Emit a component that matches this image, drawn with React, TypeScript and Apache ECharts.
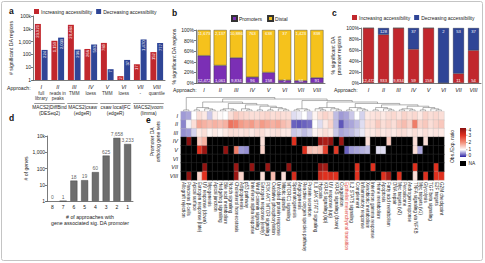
import React, { useEffect, useRef } from "react";
import * as echarts from "echarts";

const W = 485;
const H = 263;
const FONT = "Liberation Sans, Arial, sans-serif";

const RED = "#c1272d";
const BLUE = "#2f4596";
const PURPLE = "#7b2fb5";
const YELLOW = "#f5c21c";
const GRAY = "#6e6e6e";

// approaches I-VIII
const approaches = ["I", "II", "III", "IV", "V", "VI", "VII", "VIII"];
const normalisation = ["full\nlibrary", "reads in\npeaks", "TMM", "loess", "TMM", "loess", "-", "quantile"];
const pipelines = ["MACS2|DiffBind\n(DESeq2)", "MACS2|csaw\n(edgeR)", "csaw local|FC\n(edgeR)", "MACS2|voom\n(limma)"];

// a: significant DA regions per approach
const increasingAll = [23921, 1159, 20484, 266, 789, 2, 17, 152];
const decreasingAll = [224, 2039, 236, 593, 7, 37, 1470, 777];

// b: promoter vs distal DA regions
const promoterCounts = [12472, 1061, 9834, 96, 158, 2, 64, 91];
const distalCounts = [11673, 2137, 10886, 763, 638, 37, 1423, 838];

// c: direction of promoter DA regions
const promoterIncreasing = [12472, 933, 9834, 59, 158, 0, 11, 54];
const promoterDecreasing = [0, 128, 0, 37, 0, 2, 53, 37];

// d: genes by number of approaches
const approachCountCats = ["8", "7", "6", "5", "4", "3", "2", "1"];
const geneCounts = [0, 1, 18, 19, 60, 625, 7658, 3233];

// e: hallmark gene sets, observed / expected ratio (null = NA)
const hallmarkSets = [
  "Allograft rejection", "Pancreas \u03b2 cells", "Apical surface", "Estrogen response (late)", "UV response (down)",
  "Myogenesis", "Apical junction", "Hedgehog signaling", "Bile acid metabolism", "Notch signaling",
  "Cholesterol homeostasis", "Adipogenesis", "p53 pathway", "Interferon alpha response", "Wnt \u03b2-catenin signaling",
  "Estrogen response (early)", "PI3K AKT MTOR signaling", "Oxidative phosphorylation", "Unfolded protein response", "Mitotic spindle",
  "MTORC1 signaling", "Spermatogenesis", "Angiogenesis", "Reactive oxygen species pathway", "Protein secretion",
  "IL6 JAK STAT3 signaling", "Hypoxia", "KRAS signaling (up)", "UV response (up)", "KRAS signaling (down)",
  "Coagulation", "Epithelial mesenchymal transition", "IL2 STAT5 signaling", "Complement", "Inflammatory response",
  "Xenobiotic metabolism", "Interferon gamma response", "Heme metabolism", "Apoptosis", "Fatty acid metabolism",
  "DNA repair", "Myc targets (v2)", "Peroxisome", "Androgen response", "TNFA signaling via NFKB",
  "Myc targets (v1)", "Glycolysis", "TGF beta signaling", "E2F targets", "G2M checkpoint",
];
const highlightedSet = "Epithelial mesenchymal transition";

const _ = null;
const ratioI = [
  0.55, 0.6, 1.0, 1.3, 1.2, 0.75, 1.15, 1.05, 1.0, 1.3,
  1.5, 1.4, 1.35, 1.3, 1.3, 1.35, 1.4, 1.3, 1.35, 1.3,
  1.3, 0.85, 0.9, 1.0, 0.8, 1.1, 1.3, 1.4, 1.3, 0.7,
  0.55, 0.6, 0.75, 1.0, 0.8, 1.2, 1.25, 1.3, 1.2, 1.3,
  1.35, 1.25, 1.4, 1.3, 1.35, 1.2, 1.4, 1.3, 1.35, 1.3,
];
const ratioII = [
  0.45, 0.95, 1.3, 1.8, 1.7, 1.6, 1.7, 1.6, 1.7, 2.3,
  2.2, 1.9, 1.8, 1.9, 1.7, 1.9, 1.8, 1.7, 1.8, 1.6,
  1.5, 0.3, 0.25, 0.3, 0.35, 1.0, 0.85, 1.2, 1.4, 0.7,
  0.25, 0.55, 0.6, 0.7, 0.85, 1.3, 1.3, 1.5, 1.3, 1.4,
  1.3, 1.5, 1.6, 1.4, 2.2, 1.4, 1.5, 1.3, 1.4, 1.5,
];
const ratioIII = [
  0.5, 0.55, 0.8, 1.2, 1.3, 1.1, 1.2, 1.1, 1.2, 1.3,
  1.3, 1.25, 1.3, 1.2, 1.3, 1.3, 1.2, 1.25, 1.3, 1.2,
  1.2, 0.75, 0.8, 0.7, 0.8, 1.1, 1.2, 1.3, 1.2, 0.75,
  0.6, 0.65, 0.7, 0.8, 0.9, 1.2, 1.2, 1.3, 1.2, 1.25,
  1.2, 1.3, 1.3, 1.2, 1.3, 1.2, 1.3, 1.2, 1.25, 1.2,
];
const ratioIV = [
  _, 4.2, _, 1.5, 1.7, _, _, _, _, _,
  _, _, _, _, _, 1.3, _, _, _, _,
  _, 3.0, _, _, _, _, 3.8, 3.6, 3.9, _,
  3.8, _, _, _, _, 1.3, _, _, _, 1.5,
  _, _, _, _, 1.3, _, 1.3, _, _, _,
];
const ratioV = [
  _, _, _, 3.0, 3.8, _, _, _, 3.9, _,
  2.2, 0.55, 0.5, _, _, 1.4, _, _, _, _,
  _, _, _, 3.0, 1.6, 1.5, 1.6, 2.8, _, 2.9,
  _, 0.3, 0.55, 0.6, 0.65, 0.7, _, 0.85, 0.85, _,
  _, _, _, _, 1.3, 0.6, _, _, _, _,
];
const ratioVI = [
  _, _, _, _, _, _, _, _, _, _,
  _, _, _, _, _, _, _, _, _, _,
  _, _, _, _, _, _, _, _, _, _,
  _, _, _, _, _, _, _, _, _, _,
  _, _, _, _, _, _, _, _, _, _,
];
const ratioVII = [
  _, _, _, _, 3.9, _, _, _, _, _,
  3.8, _, _, 3.9, _, _, 3.8, _, _, _,
  3.9, _, _, _, _, _, 3.9, 3.7, _, _,
  _, _, _, 3.0, _, _, 3.0, _, _, _,
  _, _, _, _, 3.0, _, _, _, 3.0, _,
];
const ratioVIII = [
  _, 3.9, _, 1.4, 3.0, _, _, _, _, _,
  3.8, 1.4, _, _, _, 1.3, _, 1.6, _, 1.3,
  _, 3.1, _, _, _, _, 3.2, 3.0, 3.1, 3.0,
  _, _, _, 3.0, _, _, _, _, 3.0, 3.7,
  _, 3.0, _, _, 1.3, _, 3.0, _, 3.0, 3.0,
];
const ratioRows = [ratioI, ratioII, ratioIII, ratioIV, ratioV, ratioVI, ratioVII, ratioVIII];

const ratioTicks = [4, 3, 2, 1, 0];
// colour stops for ratio 0, 1, 2, 3, 4
const RATIO_COLORS = ["#2a1fa3", "#ffffff", "#f3907a", "#e0301e", "#8a1010"];

// column clustering of the gene sets
const clusterA = [[[2, 3], [4, [5, 6]]], [[[7, 8], [9, 10]], [[11, [12, 13]], [[14, 15], [[16, 17], [18, [19, 20]]]]]]];
const clusterB = [[[21, 22], [23, 24]], [[[25, [26, 27]], [28, [29, 30]]], [[[31, 32], [33, [34, 35]]], [[[36, 37], [38, [39, 40]]], [[[41, 42], [43, 44]], [[45, 46], [47, [48, 49]]]]]]]];
const columnTree = [[0, 1], [clusterA, clusterB]];

const fmtNum = (v: number) => Number(v).toLocaleString("en-US");
const fmtLog = (v: number) => (v >= 10000 ? `${v / 1000}k` : fmtNum(v));

const axisLine = { show: true, lineStyle: { color: "#222", width: 0.6 } };
const axisTick = { show: true, length: 2, lineStyle: { color: "#222", width: 0.6 } };
const tickLabel = { fontFamily: FONT, fontSize: 5, color: "#222", margin: 2 };
const nameStyle = { fontFamily: FONT, fontSize: 5.2, color: "#222", lineHeight: 6 };

function inBarLabel(position: string, fmt: (p: any) => string) {
  return {
    show: true,
    position,
    distance: 1,
    fontFamily: FONT,
    fontSize: 4.2,
    color: "#fff",
    formatter: fmt,
  };
}

function buildOption(): any {
  const heatValues: any[] = [];
  const heatNA: any[] = [];
  ratioRows.forEach((row, r) =>
    row.forEach((v, c) => {
      if (v === null) heatNA.push([c, r, 0]);
      else heatValues.push([c, r, v]);
    })
  );

  const romanAxis = (gridIndex: number) => ({
    type: "category",
    gridIndex,
    data: approaches,
    axisLine,
    axisTick: { show: false },
    axisLabel: { fontFamily: FONT, fontSize: 5.5, fontStyle: "italic", color: "#222", margin: 4, interval: 0 },
  });

  return {
    animation: false,
    backgroundColor: "#fff",
    textStyle: { fontFamily: FONT },
    grid: [
      { left: 33, top: 16, width: 132, height: 64, outerBoundsMode: "none", containLabel: false },
      { left: 196, top: 30, width: 129, height: 53, outerBoundsMode: "none", containLabel: false },
      { left: 361, top: 28, width: 120, height: 55, outerBoundsMode: "none", containLabel: false },
      { left: 47, top: 136, width: 86, height: 65, outerBoundsMode: "none", containLabel: false },
      { left: 181, top: 111.5, width: 263, height: 68.5, outerBoundsMode: "none", containLabel: false },
    ],
    legend: [
      {
        data: ["Increasing accessibility", "Decreasing accessibility"],
        left: 34, top: 9, itemWidth: 5, itemHeight: 5, itemGap: 4, padding: 0, selectedMode: false,
        icon: "rect", textStyle: { fontFamily: FONT, fontSize: 5, color: "#222", padding: [0, 0, 0, -3] },
      },
      {
        data: ["Promoters", "Distal"],
        left: 231, top: 15, itemWidth: 5, itemHeight: 5, itemGap: 5, padding: 0, selectedMode: false,
        icon: "rect", textStyle: { fontFamily: FONT, fontSize: 5, color: "#222", padding: [0, 0, 0, -3] },
      },
      {
        data: ["Increasing accessibility", "Decreasing accessibility"],
        left: 352, top: 15, itemWidth: 5, itemHeight: 5, itemGap: 4, padding: 0, selectedMode: false,
        icon: "rect", textStyle: { fontFamily: FONT, fontSize: 5, color: "#222", padding: [0, 0, 0, -3] },
      },
    ],
    xAxis: [
      {
        type: "category",
        gridIndex: 0,
        data: approaches,
        axisLine,
        axisTick: { show: false },
        axisLabel: {
          interval: 0,
          margin: 3,
          formatter: (v: string, i: number) => `{n|${v}}\n{s|${normalisation[i]}}`,
          rich: {
            n: { fontFamily: FONT, fontSize: 5.5, fontStyle: "italic", color: "#222", lineHeight: 8 },
            s: { fontFamily: FONT, fontSize: 4.6, color: "#333", lineHeight: 5.2 },
          },
        },
      },
      romanAxis(1),
      romanAxis(2),
      {
        type: "category",
        gridIndex: 3,
        data: approachCountCats,
        axisLine,
        axisTick: { show: false },
        axisLabel: { ...tickLabel, margin: 3, interval: 0 },
        name: "# of approaches with\ngene associated sig. DA promoter",
        nameLocation: "middle",
        nameGap: 13,
        nameTextStyle: nameStyle,
      },
      {
        type: "category",
        gridIndex: 4,
        data: hallmarkSets,
        axisLine: { show: false },
        axisTick: { show: false },
        axisLabel: {
          interval: 0,
          rotate: -90,
          margin: 2,
          fontFamily: FONT,
          fontSize: 4.6,
          color: (v: string) => (v === highlightedSet ? "#e0483e" : "#222"),
        },
      },
    ],
    yAxis: [
      {
        type: "log",
        gridIndex: 0,
        min: 1,
        max: 100000,
        logBase: 10,
        axisLine,
        axisTick,
        splitLine: { show: false },
        axisLabel: { ...tickLabel, formatter: fmtLog },
        name: "# significant DA regions",
        nameLocation: "middle",
        nameGap: 19,
        nameRotate: 90,
        nameTextStyle: nameStyle,
      },
      {
        type: "value",
        gridIndex: 1,
        min: 0,
        max: 100,
        interval: 20,
        axisLine,
        axisTick,
        splitLine: { show: false },
        axisLabel: { ...tickLabel, formatter: "{value}%" },
        name: "% significant DA regions",
        nameLocation: "middle",
        nameGap: 15,
        nameRotate: 90,
        nameTextStyle: nameStyle,
      },
      {
        type: "value",
        gridIndex: 2,
        min: 0,
        max: 100,
        interval: 20,
        axisLine,
        axisTick,
        splitLine: { show: false },
        axisLabel: { ...tickLabel, formatter: "{value}%" },
        name: "% significant DA\npromoter regions",
        nameLocation: "middle",
        nameGap: 16,
        nameRotate: 90,
        nameTextStyle: nameStyle,
      },
      {
        type: "log",
        gridIndex: 3,
        min: 1,
        max: 10000,
        logBase: 10,
        axisLine,
        axisTick,
        splitLine: { show: false },
        axisLabel: { ...tickLabel, formatter: fmtLog },
        name: "# of genes",
        nameLocation: "middle",
        nameGap: 17,
        nameRotate: 90,
        nameTextStyle: nameStyle,
      },
      {
        type: "category",
        gridIndex: 4,
        data: approaches,
        inverse: true,
        axisLine: { show: false },
        axisTick: { show: false },
        axisLabel: { fontFamily: FONT, fontSize: 5.5, fontStyle: "italic", color: "#222", margin: 3 },
      },
    ],
    visualMap: [
      {
        type: "continuous",
        show: false,
        min: 0,
        max: 4,
        dimension: 2,
        seriesIndex: 8,
        inRange: { color: RATIO_COLORS },
      },
      {
        type: "continuous",
        show: false,
        min: 0,
        max: 1,
        dimension: 2,
        seriesIndex: 9,
        inRange: { color: ["#000000", "#000000"] },
      },
    ],
    series: [
      {
        type: "bar",
        name: "Increasing accessibility",
        xAxisIndex: 0,
        yAxisIndex: 0,
        data: increasingAll,
        barWidth: 6,
        barGap: "12%",
        itemStyle: { color: RED },
        label: {
          ...inBarLabel("insideTop", (p: any) => fmtNum(p.value)),
          rotate: 90,
          align: "right",
          verticalAlign: "middle",
        },
      },
      {
        type: "bar",
        name: "Decreasing accessibility",
        xAxisIndex: 0,
        yAxisIndex: 0,
        data: decreasingAll,
        barWidth: 6,
        barGap: "12%",
        itemStyle: { color: BLUE },
        label: {
          ...inBarLabel("insideTop", (p: any) => fmtNum(p.value)),
          rotate: 90,
          align: "right",
          verticalAlign: "middle",
        },
      },
      {
        type: "bar",
        name: "Promoters",
        xAxisIndex: 1,
        yAxisIndex: 1,
        stack: "regions",
        barWidth: 13,
        data: promoterCounts.map((v, i) => (v / (v + distalCounts[i])) * 100),
        itemStyle: { color: PURPLE, borderColor: "#333", borderWidth: 0.4 },
        label: inBarLabel("insideBottom", (p: any) => fmtNum(promoterCounts[p.dataIndex])),
      },
      {
        type: "bar",
        name: "Distal",
        xAxisIndex: 1,
        yAxisIndex: 1,
        stack: "regions",
        barWidth: 13,
        data: distalCounts.map((v, i) => (v / (v + promoterCounts[i])) * 100),
        itemStyle: { color: YELLOW, borderColor: "#333", borderWidth: 0.4 },
        label: inBarLabel("insideTop", (p: any) => fmtNum(distalCounts[p.dataIndex])),
      },
      {
        type: "bar",
        name: "Increasing accessibility",
        xAxisIndex: 2,
        yAxisIndex: 2,
        stack: "promoters",
        barWidth: 11,
        data: promoterIncreasing.map((v, i) => (v / (v + promoterDecreasing[i])) * 100),
        itemStyle: { color: RED, borderColor: "#333", borderWidth: 0.3 },
        label: inBarLabel("insideBottom", (p: any) =>
          promoterIncreasing[p.dataIndex] > 0 ? fmtNum(promoterIncreasing[p.dataIndex]) : ""
        ),
      },
      {
        type: "bar",
        name: "Decreasing accessibility",
        xAxisIndex: 2,
        yAxisIndex: 2,
        stack: "promoters",
        barWidth: 11,
        data: promoterDecreasing.map((v, i) => (v / (v + promoterIncreasing[i])) * 100),
        itemStyle: { color: BLUE, borderColor: "#333", borderWidth: 0.3 },
        label: inBarLabel("insideTop", (p: any) =>
          promoterDecreasing[p.dataIndex] > 0 ? fmtNum(promoterDecreasing[p.dataIndex]) : ""
        ),
      },
      {
        type: "bar",
        name: "Genes",
        xAxisIndex: 3,
        yAxisIndex: 3,
        barWidth: 7,
        data: geneCounts.map((v) => (v > 0 ? v : "-")),
        itemStyle: { color: GRAY, borderColor: "#333", borderWidth: 0.4 },
      },
      {
        type: "scatter",
        name: "Gene count labels",
        xAxisIndex: 3,
        yAxisIndex: 3,
        symbolSize: 1,
        itemStyle: { color: "transparent" },
        data: geneCounts.map((v) => Math.max(v, 1)),
        label: {
          show: true,
          position: "top",
          distance: 1,
          fontFamily: FONT,
          fontSize: 5,
          color: "#333",
          formatter: (p: any) => fmtNum(geneCounts[p.dataIndex]),
        },
      },
      {
        type: "heatmap",
        name: "Obs./Exp. ratio",
        xAxisIndex: 4,
        yAxisIndex: 4,
        data: heatValues,
        itemStyle: { borderColor: "#b8b8b8", borderWidth: 0.3 },
        emphasis: { disabled: true },
      },
      {
        type: "heatmap",
        name: "NA",
        xAxisIndex: 4,
        yAxisIndex: 4,
        data: heatNA,
        itemStyle: { borderColor: "#444", borderWidth: 0.3 },
        emphasis: { disabled: true },
      },
    ],
  };
}

function buildGraphics(chart: any): any[] {
  const g: any[] = [];
  const text = (x: number, y: number, t: string, style: any = {}, extra: any = {}) =>
    g.push({
      type: "text",
      x,
      y,
      silent: true,
      style: { text: t, fontFamily: FONT, fontSize: 5.2, fill: "#222", align: "left", verticalAlign: "middle", ...style },
      ...extra,
    });
  const line = (x1: number, y1: number, x2: number, y2: number, stroke = "#444", lineWidth = 0.5) =>
    g.push({ type: "line", silent: true, shape: { x1, y1, x2, y2 }, style: { stroke, lineWidth } });

  // outer frame
  g.push({
    type: "rect",
    silent: true,
    shape: { x: 1.5, y: 1.5, width: 481, height: 259, r: 2 },
    style: { fill: "none", stroke: "#c4c4c4", lineWidth: 1 },
  });

  // panel letters
  const letters: [string, number, number][] = [
    ["a", 9, 10.5],
    ["b", 172, 12.5],
    ["c", 332, 12.5],
    ["d", 9, 117.5],
    ["e", 146, 119.5],
  ];
  letters.forEach(([t, x, y]) => text(x, y, t, { fontSize: 8.5, fontWeight: "bold", fill: "#111" }));

  // "Approach:" row captions
  const aY = chart.convertToPixel({ yAxisIndex: 0 }, 1);
  text(7, aY + 7.5, "Approach:");
  text(173, chart.convertToPixel({ yAxisIndex: 1 }, 0) + 6.5, "Approach:");
  text(334, chart.convertToPixel({ yAxisIndex: 2 }, 0) + 6.5, "Approach:");

  // pipeline brackets under panel a
  const xs = approaches.map((a) => chart.convertToPixel({ xAxisIndex: 0 }, a));
  pipelines.forEach((p, k) => {
    const x1 = xs[2 * k] - 7;
    const x2 = xs[2 * k + 1] + 7;
    line(x1, aY + 23.5, x2, aY + 23.5, "#333", 0.5);
    text((x1 + x2) / 2, aY + 25, p, { align: "center", verticalAlign: "top", fontSize: 4.8, lineHeight: 5.4 });
  });

  // heatmap geometry
  const colX = hallmarkSets.map((s) => chart.convertToPixel({ xAxisIndex: 4 }, s));
  const r0 = chart.convertToPixel({ yAxisIndex: 4 }, approaches[0]);
  const r1 = chart.convertToPixel({ yAxisIndex: 4 }, approaches[1]);
  const rowH = r1 - r0;
  const heatTop = r0 - rowH / 2;
  const heatBottom = heatTop + rowH * approaches.length;

  // row-side caption
  text(155, (heatTop + heatBottom) / 2 - 4, "Promoter DA\northolog gene sets", {
    align: "center",
    fontSize: 5,
    lineHeight: 6,
  }, { rotation: Math.PI / 2 });

  // column dendrogram
  const dendroTop = heatTop - 14;
  const levelOf = (n: any): number => (typeof n === "number" ? 0 : 1 + Math.max(...n.map(levelOf)));
  const maxLvl = levelOf(columnTree);
  const yOf = (lvl: number) => heatTop - 0.6 - (heatTop - 0.6 - dendroTop) * Math.pow(lvl / maxLvl, 1.15);
  const draw = (n: any): [number, number] => {
    if (typeof n === "number") return [colX[n], heatTop];
    const kids = n.map(draw);
    const y = yOf(levelOf(n));
    const kx = kids.map((k: [number, number]) => k[0]);
    kids.forEach((k: [number, number]) => line(k[0], k[1], k[0], y, "#555", 0.45));
    const lo = Math.min(...kx);
    const hi = Math.max(...kx);
    line(lo, y, hi, y, "#555", 0.45);
    return [(lo + hi) / 2, y];
  };
  draw(columnTree);

  // colour key
  const keyX = 460;
  const keyTop = 128;
  const keyH = 29;
  g.push({
    type: "rect",
    silent: true,
    shape: { x: keyX, y: keyTop, width: 6, height: keyH },
    style: {
      fill: new echarts.graphic.LinearGradient(0, 0, 0, 1, [
        { offset: 0, color: RATIO_COLORS[4] },
        { offset: 0.25, color: RATIO_COLORS[3] },
        { offset: 0.5, color: RATIO_COLORS[2] },
        { offset: 0.75, color: RATIO_COLORS[1] },
        { offset: 1, color: RATIO_COLORS[0] },
      ]),
    },
  });
  ratioTicks.forEach((v) => {
    const y = keyTop + ((4 - v) / 4) * keyH + (v === 4 ? 2 : v === 0 ? -2 : 0);
    line(keyX + 6, y, keyX + 7.5, y, "#333", 0.4);
    text(keyX + 8.5, y, String(v), { fontSize: 4.8 });
  });
  g.push({
    type: "rect",
    silent: true,
    shape: { x: keyX, y: keyTop + keyH + 4, width: 6, height: 5 },
    style: { fill: "#000" },
  });
  text(keyX + 8.5, keyTop + keyH + 6.5, "NA", { fontSize: 4.8 });
  text(452, keyTop + keyH / 2 + 4, "Obs./Exp. ratio", { align: "center", fontSize: 5 }, { rotation: Math.PI / 2 });

  return g;
}

export default function App() {
  const ref = useRef<HTMLDivElement>(null);
  useEffect(() => {
    const el = ref.current;
    if (!el) return;
    const chart = echarts.init(el, undefined, { renderer: "svg" });
    chart.setOption(buildOption());
    chart.setOption({ graphic: buildGraphics(chart) });
    return () => chart.dispose();
  }, []);
  return (
    <div
      ref={ref}
      style={{ position: "fixed", left: 0, top: 0, width: W, height: H, background: "#fff" }}
    />
  );
}
